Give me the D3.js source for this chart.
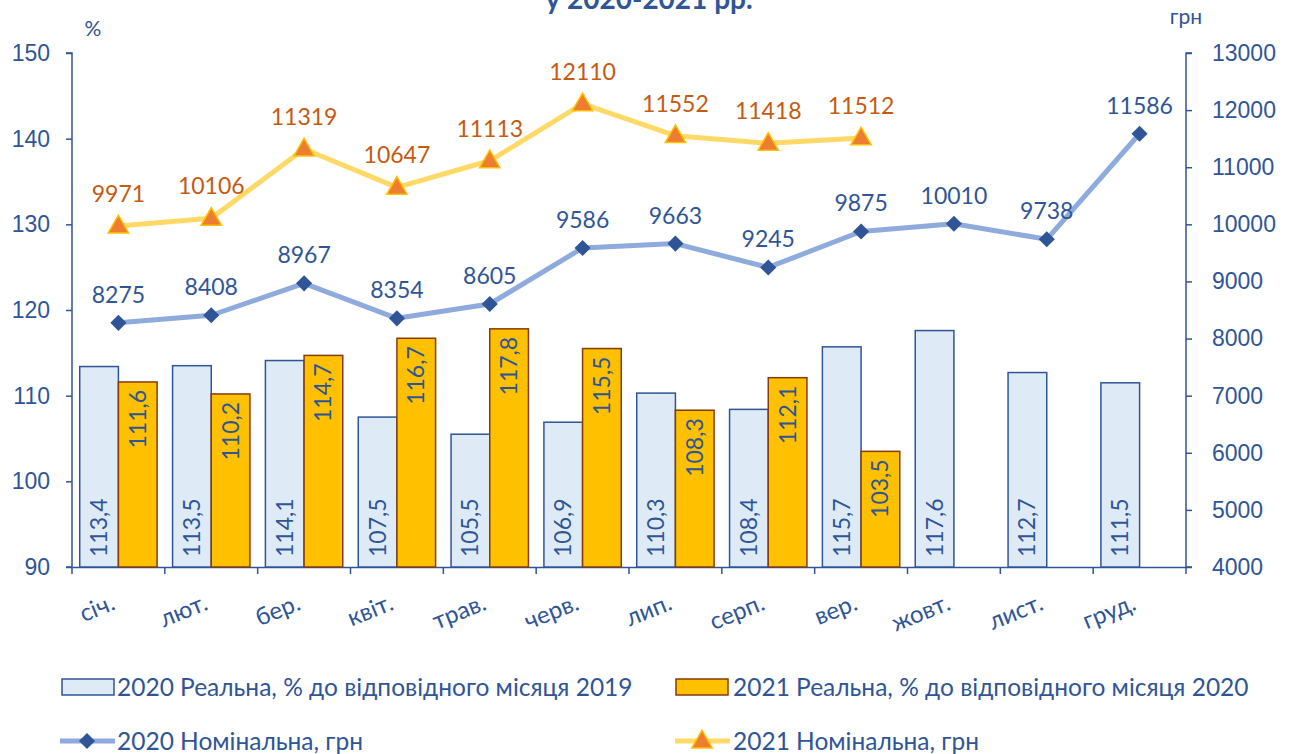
<!DOCTYPE html>
<html lang="uk">
<head>
<meta charset="UTF-8">
<script src="https://d3js.org/d3.v7.min.js"></script>
<style>
  body { margin: 0; background: #fff; font-family: Lato, "Open Sans", sans-serif; overflow: hidden; }
  text { fill: #2F5597; }
</style>
</head>
<body>
<svg id="chart"></svg>
<script>
const months = ["січ.", "лют.", "бер.", "квіт.", "трав.", "черв.", "лип.", "серп.", "вер.", "жовт.", "лист.", "груд."];
const real2020 = [113.4, 113.5, 114.1, 107.5, 105.5, 106.9, 110.3, 108.4, 115.7, 117.6, 112.7, 111.5];
const real2021 = [111.6, 110.2, 114.7, 116.7, 117.8, 115.5, 108.3, 112.1, 103.5];
const nom2020 = [8275, 8408, 8967, 8354, 8605, 9586, 9663, 9245, 9875, 10010, 9738, 11586];
const nom2021 = [9971, 10106, 11319, 10647, 11113, 12110, 11552, 11418, 11512];
const leftTicks = [90, 100, 110, 120, 130, 140, 150];
const rightTicks = [4000, 5000, 6000, 7000, 8000, 9000, 10000, 11000, 12000, 13000];

const W = 1294, H = 754;
const m = { left: 72, right: 1186, top: 53, bottom: 567 };
const blue = "#2F5597";
const fs = "23px";
const fmt = v => String(v).replace(".", ",");

const svg = d3.select("#chart").attr("width", W).attr("height", H);

const x = d3.scaleBand().domain(months).range([m.left, m.right]);
const xs = d3.scaleBand().domain(["a", "b"]).range([0, x.bandwidth()]).paddingOuter(0.2).paddingInner(0);
const yL = d3.scaleLinear().domain([90, 150]).range([m.bottom, m.top]);
const yR = d3.scaleLinear().domain([4000, 13000]).range([m.bottom, m.top]);

// title (partly cut off at top, as in the source)
svg.append("text").attr("x", 649).attr("y", 9).attr("text-anchor", "middle")
  .style("font-size", "28px").style("font-weight", "bold").style("fill", blue)
  .text("у 2020-2021 рр.");

// axes
const axL = svg.append("g").attr("transform", `translate(${m.left},0)`)
  .call(d3.axisLeft(yL).tickValues(leftTicks).tickSize(6).tickPadding(16));
const axR = svg.append("g").attr("transform", `translate(${m.right},0)`)
  .call(d3.axisRight(yR).tickValues(rightTicks).tickFormat(d3.format("d")).tickSize(6).tickPadding(20));
const axB = svg.append("g").attr("transform", `translate(0,${m.bottom})`)
  .call(d3.axisBottom(x).tickSize(0).tickFormat(""));
svg.append("g").selectAll("line").data(d3.range(13)).join("line")
  .attr("x1", i => m.left + i * x.step()).attr("x2", i => m.left + i * x.step())
  .attr("y1", m.bottom).attr("y2", m.bottom + 7)
  .attr("stroke", blue).attr("stroke-width", 1.5);

[axL, axR, axB].forEach(g => {
  g.selectAll("path, line").attr("stroke", blue).attr("stroke-width", 1.5);
  g.selectAll("text").style("font-size", fs).style("fill", blue);
});
axR.selectAll("path").attr("d", `M6,${m.top}H0V${m.bottom}H6`);
axL.selectAll("path").attr("d", `M-6,${m.top}H0V${m.bottom}H-6`);

svg.append("text").attr("x", 93).attr("y", 36).attr("text-anchor", "middle")
  .style("font-size", "21px").text("%");
svg.append("text").attr("x", 1186).attr("y", 24).attr("text-anchor", "middle")
  .style("font-size", "21px").text("грн");

// month labels
svg.append("g").selectAll("text").data(months).join("text")
  .attr("transform", d => `translate(${x(d) + x.bandwidth() / 2 - 2},${m.bottom + 42}) rotate(-22)`)
  .attr("text-anchor", "end")
  .style("font-size", "24px")
  .text(d => d);

// bars
const b20 = svg.append("g");
b20.selectAll("rect").data(real2020).join("rect")
  .attr("x", (d, i) => x(months[i]) + xs("a"))
  .attr("width", xs.bandwidth())
  .attr("y", d => yL(d)).attr("height", d => m.bottom - yL(d))
  .attr("fill", "#DEEBF7").attr("stroke", blue).attr("stroke-width", 1.5);
b20.selectAll("text").data(real2020).join("text")
  .attr("transform", (d, i) => `translate(${x(months[i]) + xs("a") + xs.bandwidth() / 2 + 8},${m.bottom - 10}) rotate(-90)`)
  .attr("text-anchor", "start")
  .style("font-size", fs)
  .text(fmt);

const b21 = svg.append("g");
b21.selectAll("rect").data(real2021).join("rect")
  .attr("x", (d, i) => x(months[i]) + xs("b"))
  .attr("width", xs.bandwidth())
  .attr("y", d => yL(d)).attr("height", d => m.bottom - yL(d))
  .attr("fill", "#FFC000").attr("stroke", "#843C0C").attr("stroke-width", 1.5);
b21.selectAll("text").data(real2021).join("text")
  .attr("transform", (d, i) => `translate(${x(months[i]) + xs("b") + xs.bandwidth() / 2 + 8},${yL(d) + 8}) rotate(-90)`)
  .attr("text-anchor", "end")
  .style("font-size", fs)
  .text(fmt);

// lines
const cx = i => x(months[i]) + x.bandwidth() / 2;
const line = d3.line().x((d, i) => cx(i)).y(d => yR(d));

svg.append("path").datum(nom2020).attr("d", line)
  .attr("fill", "none").attr("stroke", "#8FAADC").attr("stroke-width", 5).attr("stroke-linejoin", "round");
svg.append("path").datum(nom2021).attr("d", line)
  .attr("fill", "none").attr("stroke", "#FFD966").attr("stroke-width", 5).attr("stroke-linejoin", "round");

const diamond = d3.symbol().type(d3.symbolSquare).size(130);
svg.append("g").selectAll("path").data(nom2020).join("path")
  .attr("transform", (d, i) => `translate(${cx(i)},${yR(d)}) rotate(45)`)
  .attr("d", diamond).attr("fill", blue);
svg.append("g").selectAll("text").data(nom2020).join("text")
  .attr("x", (d, i) => cx(i)).attr("y", d => yR(d) - 20)
  .attr("text-anchor", "middle").style("font-size", fs)
  .text(d => d);

const tri = d3.symbol().type(d3.symbolTriangle).size(180);
svg.append("g").selectAll("path").data(nom2021).join("path")
  .attr("transform", (d, i) => `translate(${cx(i)},${yR(d) + 1})`)
  .attr("d", tri).attr("fill", "#ED7D31").attr("stroke", "#FFC000").attr("stroke-width", 1.5);
svg.append("g").selectAll("text").data(nom2021).join("text")
  .attr("x", (d, i) => cx(i)).attr("y", d => yR(d) - 24)
  .attr("text-anchor", "middle").style("font-size", fs).style("fill", "#C55A11")
  .text(d => d);

// legend
const lg = svg.append("g").style("font-size", "24.5px");
lg.append("rect").attr("x", 62).attr("y", 679).attr("width", 52).attr("height", 16)
  .attr("fill", "#DEEBF7").attr("stroke", blue).attr("stroke-width", 1.5);
lg.append("text").attr("x", 117).attr("y", 696).text("2020 Реальна, % до відповідного місяця 2019");
lg.append("rect").attr("x", 676).attr("y", 679).attr("width", 52).attr("height", 16)
  .attr("fill", "#FFC000").attr("stroke", "#843C0C").attr("stroke-width", 1.5);
lg.append("text").attr("x", 733).attr("y", 696).text("2021 Реальна, % до відповідного місяця 2020");

lg.append("line").attr("x1", 60).attr("x2", 115).attr("y1", 741).attr("y2", 741)
  .attr("stroke", "#8FAADC").attr("stroke-width", 5);
lg.append("path").attr("transform", "translate(87,741) rotate(45)").attr("d", diamond).attr("fill", blue);
lg.append("text").attr("x", 117).attr("y", 750).text("2020 Номінальна, грн");
lg.append("line").attr("x1", 675).attr("x2", 730).attr("y1", 741).attr("y2", 741)
  .attr("stroke", "#FFD966").attr("stroke-width", 5);
lg.append("path").attr("transform", "translate(702,742)").attr("d", tri)
  .attr("fill", "#ED7D31").attr("stroke", "#FFC000").attr("stroke-width", 1.5);
lg.append("text").attr("x", 733).attr("y", 750).text("2021 Номінальна, грн");
</script>
</body>
</html>
